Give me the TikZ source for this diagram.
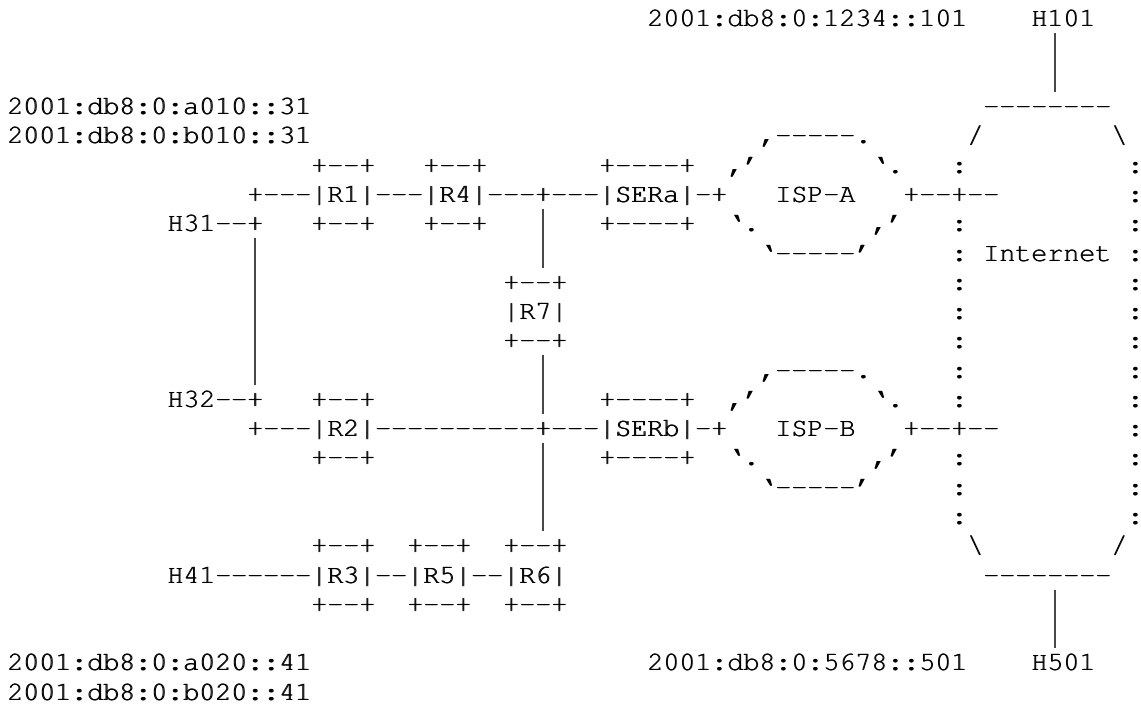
\documentclass[tikz,border=0pt]{standalone}
\usepackage[T1]{fontenc}
\usepackage{courier}
\newcommand\heavy[1]{\rlap{\kern0.45pt#1}#1}
\tikzset{
  asc/.style={anchor=base west, inner sep=0pt, outer sep=0pt, font=\ttfamily\fontsize{13.333}{16}\selectfont},
  vbar/.style={line width=1pt, draw=black!72, line cap=butt}
}
\begin{document}
\begin{tikzpicture}[x=8pt,y=-14.64pt]
\useasboundingbox (0,0) rectangle (71.3125,24.18);
\begin{scope}[shift={(0.4375,0.9153)}]
% row 0
\node[asc] (addr101) at (40,0) {\heavy{2001:db8:0:1234::101}};
\node[asc] (h101) at (64,0) {\heavy{H101}};
% row 3
\node[asc] (addr31a) at (0,3) {\heavy{2001:db8:0:a010::31}};
\node[asc] (nettop) at (61,3) {\heavy{-{}-{}-{}-{}-{}-{}-{}-}};
% row 4
\node[asc] (addr31b) at (0,4) {\heavy{2001:db8:0:b010::31}};
\node[asc] (ispAtop) at (47,4) {\heavy{,-{}-{}-{}-{}-.}};
\node[asc] (netTL) at (60,4) {\heavy{/}};
\node[asc] (netTR) at (69,4) {\heavy{\textbackslash}};
% row 5
\node[asc] (r1top) at (19,5) {\heavy{+-{}-+}};
\node[asc] (r4top) at (26,5) {\heavy{+-{}-+}};
\node[asc] (seratop) at (37,5) {\heavy{+-{}-{}-{}-+}};
\node[asc] (ispAul) at (45,5) {\heavy{,'}};
\node[asc] (ispAur) at (54,5) {\heavy{`.}};
\node[asc] (netL5) at (59,5) {\heavy{:}};
\node[asc] (netR5) at (70,5) {\heavy{:}};
% row 6
\node[asc] (rowA) at (15,6) {\heavy{+-{}-{}-|R1|-{}-{}-|R4|-{}-{}-+-{}-{}-|SERa|-+}};
\node[asc] (ispA) at (48,6) {\heavy{ISP-A}};
\node[asc] (ispAlink) at (56,6) {\heavy{+-{}-+-{}-}};
\node[asc] (netR6) at (70,6) {\heavy{:}};
% row 7
\node[asc] (h31) at (10,7) {\heavy{H31-{}-+}};
\node[asc] (r1bot) at (19,7) {\heavy{+-{}-+}};
\node[asc] (r4bot) at (26,7) {\heavy{+-{}-+}};
\node[asc] (serabot) at (37,7) {\heavy{+-{}-{}-{}-+}};
\node[asc] (ispAll) at (45,7) {\heavy{`.}};
\node[asc] (ispAlr) at (54,7) {\heavy{,'}};
\node[asc] (netL7) at (59,7) {\heavy{:}};
\node[asc] (netR7) at (70,7) {\heavy{:}};
% row 8
\node[asc] (ispAbot) at (47,8) {\heavy{`-{}-{}-{}-{}-'}};
\node[asc] (netL8) at (59,8) {\heavy{:}};
\node[asc] (internet) at (61,8) {\heavy{Internet}};
\node[asc] (netR8) at (70,8) {\heavy{:}};
% row 9
\node[asc] (r7top) at (31,9) {\heavy{+-{}-+}};
\node[asc] (netL9) at (59,9) {\heavy{:}};
\node[asc] (netR9) at (70,9) {\heavy{:}};
% row 10
\node[asc] (r7) at (31,10) {\heavy{|R7|}};
\node[asc] (netL10) at (59,10) {\heavy{:}};
\node[asc] (netR10) at (70,10) {\heavy{:}};
% row 11
\node[asc] (r7bot) at (31,11) {\heavy{+-{}-+}};
\node[asc] (netL11) at (59,11) {\heavy{:}};
\node[asc] (netR11) at (70,11) {\heavy{:}};
% row 12
\node[asc] (ispBtop) at (47,12) {\heavy{,-{}-{}-{}-{}-.}};
\node[asc] (netL12) at (59,12) {\heavy{:}};
\node[asc] (netR12) at (70,12) {\heavy{:}};
% row 13
\node[asc] (h32) at (10,13) {\heavy{H32-{}-+}};
\node[asc] (r2top) at (19,13) {\heavy{+-{}-+}};
\node[asc] (serbtop) at (37,13) {\heavy{+-{}-{}-{}-+}};
\node[asc] (ispBul) at (45,13) {\heavy{,'}};
\node[asc] (ispBur) at (54,13) {\heavy{`.}};
\node[asc] (netL13) at (59,13) {\heavy{:}};
\node[asc] (netR13) at (70,13) {\heavy{:}};
% row 14
\node[asc] (rowB) at (15,14) {\heavy{+-{}-{}-|R2|-{}-{}-{}-{}-{}-{}-{}-{}-{}-+-{}-{}-|SERb|-+}};
\node[asc] (ispB) at (48,14) {\heavy{ISP-B}};
\node[asc] (ispBlink) at (56,14) {\heavy{+-{}-+-{}-}};
\node[asc] (netR14) at (70,14) {\heavy{:}};
% row 15
\node[asc] (r2bot) at (19,15) {\heavy{+-{}-+}};
\node[asc] (serbbot) at (37,15) {\heavy{+-{}-{}-{}-+}};
\node[asc] (ispBll) at (45,15) {\heavy{`.}};
\node[asc] (ispBlr) at (54,15) {\heavy{,'}};
\node[asc] (netL15) at (59,15) {\heavy{:}};
\node[asc] (netR15) at (70,15) {\heavy{:}};
% row 16
\node[asc] (ispBbot) at (47,16) {\heavy{`-{}-{}-{}-{}-'}};
\node[asc] (netL16) at (59,16) {\heavy{:}};
\node[asc] (netR16) at (70,16) {\heavy{:}};
% row 17
\node[asc] (netL17) at (59,17) {\heavy{:}};
\node[asc] (netR17) at (70,17) {\heavy{:}};
% row 18
\node[asc] (r3top) at (19,18) {\heavy{+-{}-+}};
\node[asc] (r5top) at (25,18) {\heavy{+-{}-+}};
\node[asc] (r6top) at (31,18) {\heavy{+-{}-+}};
\node[asc] (netBL) at (60,18) {\heavy{\textbackslash}};
\node[asc] (netBR) at (69,18) {\heavy{/}};
% row 19
\node[asc] (rowC) at (10,19) {\heavy{H41-{}-{}-{}-{}-{}-|R3|-{}-|R5|-{}-|R6|}};
\node[asc] (netbot) at (61,19) {\heavy{-{}-{}-{}-{}-{}-{}-{}-}};
% row 20
\node[asc] (r3bot) at (19,20) {\heavy{+-{}-+}};
\node[asc] (r5bot) at (25,20) {\heavy{+-{}-+}};
\node[asc] (r6bot) at (31,20) {\heavy{+-{}-+}};
% row 22-23
\node[asc] (addr41a) at (0,22) {\heavy{2001:db8:0:a020::41}};
\node[asc] (addr501) at (40,22) {\heavy{2001:db8:0:5678::501}};
\node[asc] (h501) at (64,22) {\heavy{H501}};
\node[asc] (addr41b) at (0,23) {\heavy{2001:db8:0:b020::41}};
% vertical connectors (each spans whole character cells)
\coordinate (h101foot) at (65.5,0.2213);
\coordinate (nettopcap) at (65.5,2.2213);
\coordinate (h31foot) at (15.5,7.2213);
\coordinate (h32cap) at (15.5,12.2213);
\coordinate (rowAfoot) at (33.5,6.2213);
\coordinate (r7cap) at (33.5,8.2213);
\coordinate (r7foot) at (33.5,11.2213);
\coordinate (rowBcap) at (33.5,13.2213);
\coordinate (rowBfoot) at (33.5,14.2213);
\coordinate (r6cap) at (33.5,17.2213);
\coordinate (netbotfoot) at (65.5,19.2213);
\coordinate (h501cap) at (65.5,21.2213);
\draw[vbar] (h101foot) -- (nettopcap);
\draw[vbar] (h31foot) -- (h32cap);
\draw[vbar] (rowAfoot) -- (r7cap);
\draw[vbar] (r7foot) -- (rowBcap);
\draw[vbar] (rowBfoot) -- (r6cap);
\draw[vbar] (netbotfoot) -- (h501cap);
\end{scope}
\end{tikzpicture}
\end{document}
